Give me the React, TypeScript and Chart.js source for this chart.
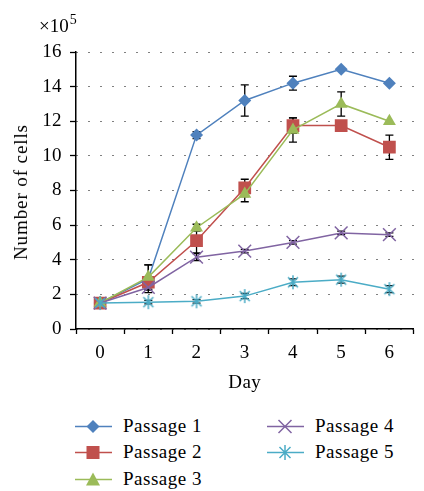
import React, { useEffect, useRef } from "react";
import { Chart, registerables } from "chart.js";

Chart.register(...registerables);

const days = ["0", "1", "2", "3", "4", "5", "6"];

const passage1 = [1.5, 2.9, 11.2, 13.2, 14.2, 15.0, 14.2];
const passage2 = [1.5, 2.7, 5.1, 8.15, 11.75, 11.75, 10.5];
const passage3 = [1.5, 3.0, 5.85, 7.8, 11.5, 13.0, 12.0];
const passage4 = [1.5, 2.4, 4.15, 4.5, 5.0, 5.55, 5.45];
const passage5 = [1.5, 1.55, 1.6, 1.9, 2.7, 2.85, 2.3];

const passage1Err = [0, 0.8, 0.2, 0.9, 0.4, 0, 0];
const passage2Err = [0, 0.3, 0.7, 0.5, 0.45, 0, 0.7];
const passage3Err = [0, 0.7, 0.2, 0.45, 0.7, 0.7, 0];
const passage4Err = [0, 0.15, 0.2, 0.1, 0.1, 0.1, 0.1];
const passage5Err = [0, 0.1, 0.1, 0.15, 0.2, 0.2, 0.2];

const seriesNames = ["Passage 1", "Passage 2", "Passage 3", "Passage 4", "Passage 5"];
const seriesColors = ["#4F81BD", "#C0504D", "#9BBB59", "#8064A2", "#4BACC6"];

const yMin = 0;
const yMax = 16;
const yStep = 2;

const xTitle = "Day";
const yTitle = "Number of cells";

const FONT = "'Liberation Serif', 'Times New Roman', serif";

const seriesValues = [passage1, passage2, passage3, passage4, passage5];
const seriesErrors = [passage1Err, passage2Err, passage3Err, passage4Err, passage5Err];

function makeAsterisk(color: string): HTMLCanvasElement {
  const c = document.createElement("canvas");
  c.width = 16;
  c.height = 16;
  const g = c.getContext("2d")!;
  g.strokeStyle = color;
  g.lineWidth = 1.5;
  g.beginPath();
  g.moveTo(8, 1);
  g.lineTo(8, 15);
  g.moveTo(3, 3);
  g.lineTo(13, 13);
  g.moveTo(13, 3);
  g.lineTo(3, 13);
  g.stroke();
  return c;
}

const letterSpacingPlugin = {
  id: "letterSpacing",
  beforeDraw(chart: any) {
    try {
      (chart.ctx as any).letterSpacing = "0.4px";
    } catch (e) {
      /* ignore */
    }
  },
};

const errorBarPlugin = {
  id: "errorBars",
  beforeDatasetsDraw(chart: any) {
    const { ctx } = chart;
    const xs = chart.scales.x;
    const ys = chart.scales.y;
    ctx.save();
    ctx.strokeStyle = "#000";
    ctx.lineWidth = 1.3;
    seriesValues.forEach((vals, si) => {
      const errs = seriesErrors[si];
      vals.forEach((v, i) => {
        const e = errs[i];
        if (!e) return;
        const px = xs.getPixelForValue(i);
        const top = ys.getPixelForValue(v + e);
        const bot = ys.getPixelForValue(v - e);
        ctx.beginPath();
        ctx.moveTo(px, top);
        ctx.lineTo(px, bot);
        ctx.moveTo(px - 4, top);
        ctx.lineTo(px + 4, top);
        ctx.moveTo(px - 4, bot);
        ctx.lineTo(px + 4, bot);
        ctx.stroke();
      });
    });
    ctx.restore();
  },
};

function LegendMarker({ idx }: { idx: number }) {
  const c = seriesColors[idx];
  let shape: React.ReactNode = null;
  if (idx === 0) shape = <polygon points="18,3 24.5,9.5 18,16 11.5,9.5" fill={c} />;
  if (idx === 1) shape = <rect x={11.5} y={3} width={13} height={13} fill={c} />;
  if (idx === 2) shape = <polygon points="18,2.5 25,15.5 11,15.5" fill={c} />;
  if (idx === 3)
    shape = <path d="M11.5 3 L24.5 16 M24.5 3 L11.5 16" stroke={c} strokeWidth={1.5} />;
  if (idx === 4)
    shape = (
      <path d="M18 2 L18 17 M12.5 4 L23.5 15 M23.5 4 L12.5 15" stroke={c} strokeWidth={1.5} />
    );
  return (
    <svg width={37} height={19} style={{ display: "block" }}>
      <line x1={0} y1={9.5} x2={37} y2={9.5} stroke={c} strokeWidth={1.5} />
      {shape}
    </svg>
  );
}

export default function App() {
  const canvasRef = useRef<HTMLCanvasElement | null>(null);

  useEffect(() => {
    if (!canvasRef.current) return;
    const pointStyles: any[] = ["rectRot", "rect", "triangle", "crossRot", makeAsterisk(seriesColors[4])];
    const radii = [6.5, 9, 7.5, 9, 8];
    const chart = new Chart(canvasRef.current, {
      type: "line",
      data: {
        labels: days,
        datasets: seriesValues.map((vals, i) => ({
          label: seriesNames[i],
          data: vals,
          borderColor: seriesColors[i],
          backgroundColor: seriesColors[i],
          borderWidth: 1.5,
          pointStyle: pointStyles[i],
          pointRadius: radii[i],
          pointBorderWidth: i >= 3 ? 1.5 : 0,
          pointBorderColor: seriesColors[i],
          pointBackgroundColor: seriesColors[i],
          tension: 0,
          order: 5 - i,
        })),
      },
      options: {
        responsive: false,
        animation: false,
        devicePixelRatio: 1,
        layout: { padding: { top: 52, right: 0, left: 0, bottom: 0 } },
        plugins: {
          legend: { display: false },
          tooltip: { enabled: false },
        },
        scales: {
          x: {
            type: "category",
            offset: true,
            afterFit: (s: any) => {
              s.height = 71;
            },
            grid: {
              offset: true,
              drawOnChartArea: false,
              drawTicks: true,
              tickLength: 5,
              tickColor: "#000",
              tickWidth: 1.3,
              color: "#000",
            },
            border: { display: true, color: "#000", width: 1.5 },
            ticks: {
              color: "#000",
              padding: 8,
              font: { family: FONT, size: 19 },
            },
            title: {
              display: true,
              text: xTitle,
              color: "#000",
              font: { family: FONT, size: 19 },
              padding: { top: 0, bottom: 6 },
            },
          },
          y: {
            min: yMin,
            max: yMax,
            afterFit: (s: any) => {
              s.width = 76;
            },
            grid: {
              drawOnChartArea: true,
              drawTicks: true,
              tickLength: 6,
              tickColor: "#000",
              tickWidth: 1.3,
              color: "#000",
              lineWidth: 1,
            },
            border: { display: true, color: "#000", width: 1.5, dash: [1, 11] },
            ticks: {
              stepSize: yStep,
              color: "#000",
              padding: 8,
              font: { family: FONT, size: 19 },
            },
            title: { display: false },
          },
        },
      },
      plugins: [letterSpacingPlugin, errorBarPlugin],
    } as any);
    return () => chart.destroy();
  }, []);

  const legendRows = [426, 452, 479];
  const legendItems = [
    { idx: 0, col: 0, row: 0 },
    { idx: 1, col: 0, row: 1 },
    { idx: 2, col: 0, row: 2 },
    { idx: 3, col: 1, row: 0 },
    { idx: 4, col: 1, row: 1 },
  ];
  const colX = [75, 267];

  return (
    <div
      style={{
        position: "fixed",
        left: 0,
        top: 0,
        width: 424,
        height: 491,
        background: "#fff",
        overflow: "hidden",
        fontFamily: FONT,
        color: "#000",
      }}
    >
      <canvas ref={canvasRef} width={424} height={400} style={{ position: "absolute", left: 0, top: 0 }} />
      <div
        style={{
          position: "absolute",
          left: 21,
          top: 192,
          width: 0,
          height: 0,
        }}
      >
        <div
          style={{
            position: "absolute",
            left: 0,
            top: 0,
            transform: "translate(-50%, -50%) rotate(-90deg)",
            fontSize: 19,
            letterSpacing: 0.9,
            lineHeight: "22px",
            whiteSpace: "nowrap",
          }}
        >
          {yTitle}
        </div>
      </div>
      <div
        style={{
          position: "absolute",
          left: 39,
          top: 15,
          fontSize: 19,
          lineHeight: "22px",
          whiteSpace: "nowrap",
        }}
      >
        ×10<span style={{ fontSize: 14, position: "relative", top: -8, marginLeft: 1 }}>5</span>
      </div>
      {legendItems.map((it) => (
        <div
          key={it.idx}
          style={{
            position: "absolute",
            left: colX[it.col],
            top: legendRows[it.row] - 10,
            height: 20,
            display: "flex",
            alignItems: "center",
            whiteSpace: "nowrap",
          }}
        >
          <LegendMarker idx={it.idx} />
          <span style={{ marginLeft: 11, fontSize: 19, letterSpacing: 0.5, lineHeight: "20px" }}>
            {seriesNames[it.idx]}
          </span>
        </div>
      ))}
    </div>
  );
}
